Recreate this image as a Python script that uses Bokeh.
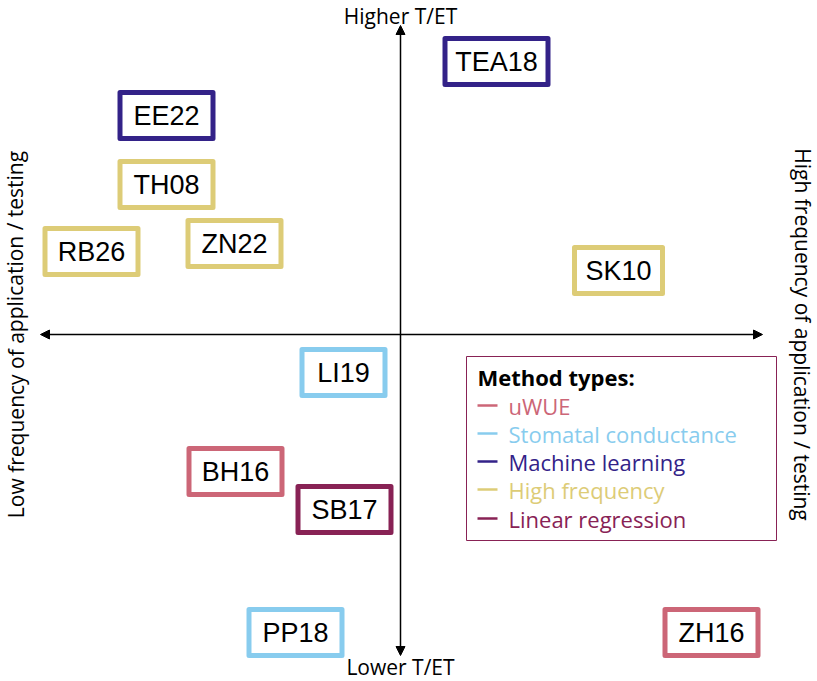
from bokeh.plotting import figure
from bokeh.models import Range1d, Arrow, NormalHead
from bokeh.core.properties import value
from bokeh.embed import file_html
from bokeh.resources import INLINE

# ---- data ----
codes = ["TEA18", "EE22", "TH08", "RB26", "ZN22", "SK10", "LI19", "BH16", "SB17", "PP18", "ZH16"]
frequency = [96, -234, -234, -309, -166, 218, -57, -165, -56, -105, 311]   # x: application/testing frequency
t_et = [273, 219, 150, 83, 91, 64, -38, -137, -175, -298, -298]           # y: T/ET
method = ["Machine learning", "Machine learning", "High frequency", "High frequency",
          "High frequency", "High frequency", "Stomatal conductance", "uWUE",
          "Linear regression", "Stomatal conductance", "uWUE"]
method_types = ["uWUE", "Stomatal conductance", "Machine learning", "High frequency", "Linear regression"]
method_colors = ["#CC6677", "#88CCEE", "#332288", "#DDCC77", "#882255"]

# ---- styles ----
box_w = {"TEA18": 103, "LI19": 83, "SK10": 88}
default_w = 93
box_h = 46
cmap = dict(zip(method_types, method_colors))

W, H = 817, 681
p = figure(width=W, height=H, output_backend="svg", toolbar_location=None,
           x_range=Range1d(-400, 417), y_range=Range1d(-347, 334),
           min_border=0, outline_line_color=None)
p.xaxis.visible = False
p.yaxis.visible = False
p.grid.visible = False

# axes arrows
p.add_layout(Arrow(start=NormalHead(size=9, fill_color="black", line_color="black"),
                   end=NormalHead(size=9, fill_color="black", line_color="black"),
                   x_start=-360, y_start=0, x_end=362, y_end=0, line_width=1.5))
p.add_layout(Arrow(start=NormalHead(size=9, fill_color="black", line_color="black"),
                   end=NormalHead(size=9, fill_color="black", line_color="black"),
                   x_start=0, y_start=-321, x_end=0, y_end=309, line_width=1.5))

lab_font = value("Open Sans")
fs = "21px"
p.text(x=[0], y=[333], text=["Higher T/ET"], text_align="center", text_baseline="top",
       text_font_size=fs, text_font=lab_font, text_color="black")
p.text(x=[0], y=[-346], text=["Lower T/ET"], text_align="center", text_baseline="bottom",
       text_font_size=fs, text_font=lab_font, text_color="black")
p.text(x=[-399], y=[0], text=["Low frequency of application / testing"], angle=1.5708,
       text_align="center", text_baseline="top",
       text_font_size=fs, text_font=lab_font, text_color="black")
p.text(x=[416], y=[0], text=["High frequency of application / testing"], angle=-1.5708,
       text_align="center", text_baseline="top",
       text_font_size=fs, text_font=lab_font, text_color="black")

# boxes
widths = [box_w.get(c, default_w) for c in codes]
colors = [cmap[m] for m in method]
p.rect(x=frequency, y=t_et, width=widths, height=box_h, fill_color="white",
       line_color=colors, line_width=5, line_join="round")
p.text(x=frequency, y=t_et, text=codes, text_align="center", text_baseline="middle",
       text_font_size="27px", text_font=value("Liberation Sans"), text_color="black")

# legend (manual)
lx0 = 66
p.rect(x=[221], y=[-114], width=310, height=184, fill_color="white",
       line_color="#882255", line_width=1)
p.text(x=[lx0 + 11], y=[-42], text=["Method types:"], text_align="left", text_baseline="middle",
       text_font_size="22px", text_font=value("Open Sans"), text_font_style="bold",
       text_color="black")
item_y = [-71, -99, -127, -155, -184]
p.segment(x0=[lx0 + 11] * 5, y0=item_y, x1=[lx0 + 31] * 5, y1=item_y,
          line_color=method_colors, line_width=2.5)
p.text(x=[lx0 + 42] * 5, y=item_y, text=method_types, text_align="left", text_baseline="middle",
       text_font_size="22px", text_font=value("Open Sans"), text_color=method_colors)

open("out.html", "w").write(file_html(p, INLINE))
